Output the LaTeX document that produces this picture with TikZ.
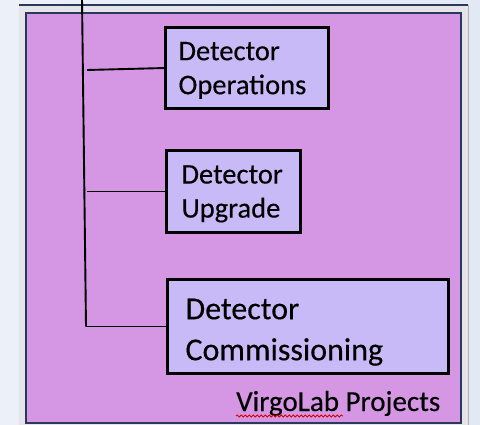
\documentclass[tikz,border=0pt]{standalone}
\usepackage{fontspec}
\setmainfont{Carlito}[FakeBold=0.3]
\usetikzlibrary{decorations.pathmorphing}

\definecolor{pagebg}{RGB}{236,241,249}
\definecolor{pagebgright}{RGB}{226,233,245}
\definecolor{framegray}{RGB}{229,229,231}
\definecolor{navy}{RGB}{42,56,96}
\definecolor{projpurple}{RGB}{213,151,227}
\definecolor{boxfill}{RGB}{200,186,246}

\tikzset{
  unitbox/.style={draw=black, line width=3pt, fill=boxfill, rectangle,
    anchor=north west, outer sep=0pt, inner ysep=0pt, align=left},
  smalltext/.style={font=\fontsize{28.5}{34}\selectfont},
  largetext/.style={font=\fontsize{32}{41}\selectfont},
  link/.style={draw=black, line width=1.9pt},
}

\begin{document}
\begin{tikzpicture}[x=1pt,y=-1pt]
\useasboundingbox (0,0) rectangle (480,425);
\shade[left color=pagebg, right color=pagebgright] (0,0) rectangle (480,425);

% outer frame and the purple project area
\fill[framegray] (19,5) rectangle (468,426);
\draw[gray!60, line width=0.8pt] (468,5) -- (468,426);
\draw[navy, line width=1.6pt] (19,5) -- (468,5);
\draw[navy, line width=1.4pt, fill=projpurple] (26,13) rectangle (461,423);

% project boxes (a strut on the first line sets the text a little lower)
\node[unitbox, smalltext, minimum width=163pt, minimum height=81pt,
      inner xsep=13pt, text width=137pt] (ops) at (165.5,27.5)
      {\rule{0pt}{23pt}Detector\\Operations};
\node[unitbox, smalltext, minimum width=134pt, minimum height=82pt,
      inner xsep=15pt, text width=104pt] (upg) at (166.5,150.5)
      {\rule{0pt}{23pt}Detector\\Upgrade};
\node[unitbox, largetext, minimum width=281pt, minimum height=94pt,
      inner xsep=18pt, text width=245pt] (com) at (167.5,279.5)
      {\rule{0pt}{32pt}Detector\\Commissioning};

% tree connectors
\coordinate (trunktop) at (82,-2);
\coordinate (trunkbot) at (86,326.5);
\coordinate (j1) at (87,70);
\coordinate (j2) at (87,191.5);
\draw[link] (trunktop) -- (trunkbot);
\draw[link] (j1) -- (ops.west);
\draw[link] (j2) -- (upg.west);
\draw[link] (trunkbot) -- (com.west);

% caption with spell-check squiggle
\node[anchor=base west, inner sep=0pt, font=\fontsize{29}{34}\selectfont]
  (caption) at (236,411) {VirgoLab Projects};
\coordinate (sqa) at (236,416);
\coordinate (sqb) at (343,416);
\draw[red!85!black, line width=0.8pt,
      decorate, decoration={snake, segment length=4pt, amplitude=1.1pt}]
  (sqa) -- (sqb);
\end{tikzpicture}
\end{document}
